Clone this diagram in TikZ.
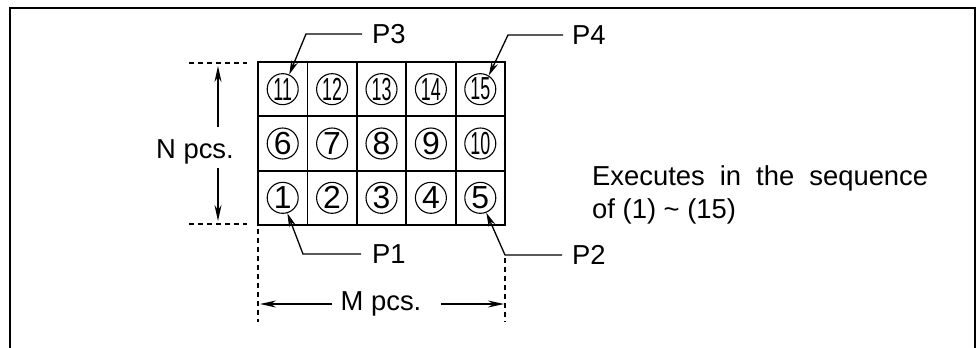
\documentclass[tikz,border=0pt]{standalone}
\usepackage{fontspec}
\usepackage{graphicx}
\setmainfont{Liberation Sans}
\usetikzlibrary{arrows.meta,calc}
\begin{document}
\begin{tikzpicture}[x=1bp,y=-1bp,
  lbl/.style={font=\fontsize{27.5}{30}\selectfont, inner sep=0pt},
  cellbox/.style={draw, line width=1.8bp, minimum width=49.4bp, minimum height=54.33bp, inner sep=0pt},
  circ/.style={draw, circle, line width=1.1bp, minimum size=31bp, inner sep=0pt, font=\fontsize{32}{32}\selectfont},
  leader/.style={line width=1.3bp, -{Stealth[length=14bp,width=7bp]}},
  dim/.style={line width=1.3bp, -{Stealth[length=16bp,width=7bp]}},
  dashline/.style={line width=1.3bp, dash pattern=on 5bp off 4bp}]
\useasboundingbox (0,0) rectangle (978,347);
% frame (bottom open)
\draw[line width=2.5bp] (10,348) -- (10,8) -- (975,8) -- (975,348);
% grid
\foreach \n in {1,...,15}{
  \pgfmathtruncatemacro{\r}{2-int((\n-1)/5)}
  \pgfmathtruncatemacro{\c}{mod(\n-1,5)}
  \node[cellbox] (cell\n) at ({258+49.4*(\c+0.5)},{62+54.33*(\r+0.5)}) {};
}
\foreach \n in {1,...,9}{
  \node[circ] (c\n) at (cell\n) {\n};
}
\foreach \n in {10,...,15}{
  \node[circ] (c\n) at (cell\n) {\scalebox{0.56}[1]{\n}};
}
% N pcs.
\node[lbl] (N) at (195,152) {N pcs.};
\coordinate (ntop) at (218,66);
\coordinate (nbot) at (218,221);
\coordinate (nupS) at (218,127);
\coordinate (ndnS) at (218,168);
\draw[dim] (nupS) -- (ntop);
\draw[dim] (ndnS) -- (nbot);
\coordinate (dt1) at (189,63); \coordinate (dt2) at (247,63);
\coordinate (db1) at (189,224); \coordinate (db2) at (247,224);
\draw[dashline] (dt1) -- (dt2);
\draw[dashline] (db1) -- (db2);
% M pcs.
\node[lbl] (M) at (381,304) {M pcs.};
\coordinate (mL) at (260,304);
\coordinate (mR) at (504,304);
\draw[dim] (M.west) ++(-8,0) -- (mL);
\draw[dim] (M.east) ++(19,0) -- (mR);
\coordinate (vl1) at (258,229); \coordinate (vl2) at (258,322);
\coordinate (vr1) at (505,258); \coordinate (vr2) at (505,322);
\draw[dashline] (vl1) -- (vl2);
\draw[dashline] (vr1) -- (vr2);
% leaders
\node[lbl, anchor=west] (P1) at (372,254) {P1};
\node[lbl, anchor=west] (P2) at (572,255) {P2};
\node[lbl, anchor=west] (P3) at (372,34) {P3};
\node[lbl, anchor=west] (P4) at (572,35) {P4};
\coordinate (b1) at (303,254);
\coordinate (b2) at (505,255);
\coordinate (b3) at (306,34);
\coordinate (b4) at (508,35);
\draw[leader] ($(P1.west)+(-11,0)$) -- (b1) -- (c1.-73);
\draw[leader] ($(P2.west)+(-10,0)$) -- (b2) -- (c5.-68);
\draw[leader] ($(P3.west)+(-10,0)$) -- (b3) -- (c11.66);
\draw[leader] ($(P4.west)+(-9,0)$) -- (b4) -- (c15.58);
% text
\node[lbl, anchor=west] (t1) at (592,178) {\makebox[336bp][s]{Executes in the sequence}};
\node[lbl, anchor=west] (t2) at (592,211) {of (1) \textasciitilde{} (15)};
\end{tikzpicture}
\end{document}
